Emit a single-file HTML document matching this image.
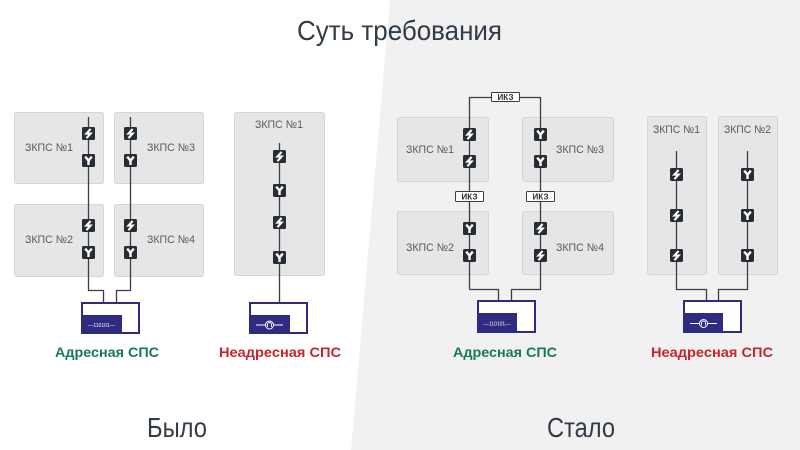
<!DOCTYPE html>
<html><head><meta charset="utf-8"><style>
html,body{margin:0;padding:0;background:#fff;}
svg{display:block;}
text{font-family:"Liberation Sans",sans-serif;}
</style></head><body>
<svg width="800" height="450" viewBox="0 0 800 450" xmlns="http://www.w3.org/2000/svg">
<defs>
<g id="bolt"><rect x="0" y="0" width="13" height="13" rx="1.5" fill="#272d34"/><path d="M8.6 2 L4.4 6.6 L8.6 6.6 L4.4 11.2" fill="none" stroke="#fff" stroke-width="2.1" stroke-linejoin="miter"/></g>
<g id="ysym"><rect x="0" y="0" width="13" height="13" rx="1.5" fill="#272d34"/><path d="M3.2 2.6 L6.5 6.6 L9.8 2.6 M6.5 6.6 L6.5 11" fill="none" stroke="#fff" stroke-width="2.4"/></g>
</defs>
<rect width="800" height="450" fill="#fff"/>
<polygon points="390,0 800,0 800,450 351,450" fill="#f1f1f1"/>

<!-- Title -->
<text x="297" y="40" font-size="28" fill="#323c46" textLength="205" lengthAdjust="spacingAndGlyphs">Суть требования</text>
<text x="147" y="437" font-size="28" fill="#323c46" textLength="60" lengthAdjust="spacingAndGlyphs">Было</text>
<text x="547" y="437" font-size="28" fill="#323c46" textLength="68" lengthAdjust="spacingAndGlyphs">Стало</text>

<g fill="#e6e6e6" stroke="#d6d6d6" stroke-width="1">
<!-- left: Было -->
<rect x="14.5" y="112.5" width="89" height="71" rx="2"/>
<rect x="114.5" y="112.5" width="89" height="71" rx="2"/>
<rect x="14.5" y="204.5" width="89" height="72" rx="2"/>
<rect x="114.5" y="204.5" width="89" height="72" rx="2"/>
<rect x="234.5" y="112.5" width="90" height="163" rx="2"/>
<!-- right: Стало -->
<rect x="397.5" y="117.5" width="91" height="64" rx="2"/>
<rect x="522.5" y="117.5" width="91" height="64" rx="2"/>
<rect x="397.5" y="211.5" width="91" height="63" rx="2"/>
<rect x="522.5" y="211.5" width="91" height="63" rx="2"/>
<rect x="647.5" y="116.5" width="59" height="158" rx="2"/>
<rect x="718.5" y="116.5" width="59" height="158" rx="2"/>
</g>

<g font-size="11" fill="#555a60">
<text x="25" y="151" textLength="48" lengthAdjust="spacingAndGlyphs">ЗКПС №1</text>
<text x="147" y="151" textLength="48" lengthAdjust="spacingAndGlyphs">ЗКПС №3</text>
<text x="25" y="243" textLength="48" lengthAdjust="spacingAndGlyphs">ЗКПС №2</text>
<text x="147" y="243" textLength="48" lengthAdjust="spacingAndGlyphs">ЗКПС №4</text>
<text x="255" y="128" textLength="48" lengthAdjust="spacingAndGlyphs">ЗКПС №1</text>
<text x="406" y="153" textLength="48" lengthAdjust="spacingAndGlyphs">ЗКПС №1</text>
<text x="556" y="153" textLength="48" lengthAdjust="spacingAndGlyphs">ЗКПС №3</text>
<text x="406" y="251" textLength="48" lengthAdjust="spacingAndGlyphs">ЗКПС №2</text>
<text x="556" y="251" textLength="48" lengthAdjust="spacingAndGlyphs">ЗКПС №4</text>
<text x="653" y="133" textLength="47" lengthAdjust="spacingAndGlyphs">ЗКПС №1</text>
<text x="724" y="133" textLength="47" lengthAdjust="spacingAndGlyphs">ЗКПС №2</text>
</g>

<!-- wires -->
<g fill="none" stroke="#3a3f46" stroke-width="1.3">
<path d="M88.5 117 V290.5 H103.5 V302"/>
<path d="M130.5 117 V290.5 H116.5 V302"/>
<path d="M279.5 143 V302"/>
<path d="M469.5 289.5 V97.5 H540.5 V289.5 H511.5 V300"/>
<path d="M469.5 289.5 H498.5 V300"/>
<path d="M676.5 151 V289.5 H706.5 V300"/>
<path d="M747.5 151 V289.5 H718.5 V300"/>
</g>

<!-- icons Было -->
<use href="#bolt" x="82" y="127"/><use href="#ysym" x="82" y="154"/>
<use href="#bolt" x="82" y="219"/><use href="#ysym" x="82" y="246"/>
<use href="#bolt" x="124" y="127"/><use href="#ysym" x="124" y="154"/>
<use href="#bolt" x="124" y="219"/><use href="#ysym" x="124" y="246"/>
<use href="#bolt" x="273" y="150"/><use href="#ysym" x="273" y="184"/>
<use href="#bolt" x="273" y="216"/><use href="#ysym" x="273" y="251"/>
<!-- icons Стало -->
<use href="#bolt" x="463" y="128"/><use href="#bolt" x="463" y="155"/>
<use href="#ysym" x="463" y="222"/><use href="#ysym" x="463" y="249"/>
<use href="#ysym" x="534" y="128"/><use href="#ysym" x="534" y="155"/>
<use href="#bolt" x="534" y="222"/><use href="#bolt" x="534" y="249"/>
<use href="#bolt" x="670" y="168"/><use href="#bolt" x="670" y="209"/><use href="#bolt" x="670" y="249"/>
<use href="#ysym" x="741" y="168"/><use href="#ysym" x="741" y="209"/><use href="#ysym" x="741" y="249"/>

<!-- ИКЗ labels -->
<g fill="#fff" stroke="#3a3f46" stroke-width="1">
<rect x="491.5" y="92.5" width="28" height="9" rx="1"/>
<rect x="455.5" y="191.5" width="28" height="10" rx="1"/>
<rect x="526.5" y="191.5" width="28" height="10" rx="1"/>
</g>
<g font-size="8" font-weight="bold" fill="#2a2f36" text-anchor="middle">
<text x="505.5" y="100">ИКЗ</text>
<text x="469.5" y="199.5">ИКЗ</text>
<text x="540.5" y="199.5">ИКЗ</text>
</g>

<!-- devices -->
<g>
<rect x="82" y="303" width="57" height="30" fill="#fff" stroke="#2e2b80" stroke-width="2"/>
<rect x="81" y="315" width="41" height="19" fill="#2e2b80"/>
<text x="101.5" y="327" font-size="5" fill="#fff" text-anchor="middle">‒‒110101‒‒</text>

<rect x="250" y="303" width="57" height="30" fill="#fff" stroke="#2e2b80" stroke-width="2"/>
<rect x="249" y="315" width="41" height="19" fill="#2e2b80"/>
<path d="M256 325 H283" stroke="#fff" stroke-width="1"/>
<circle cx="269.5" cy="325" r="4" fill="#2e2b80" stroke="#fff" stroke-width="1"/>
<path d="M267.5 327 V324.5 A2 2 0 0 1 271.5 324.5 V327" fill="none" stroke="#fff" stroke-width="0.9"/>

<rect x="478" y="301" width="57" height="31" fill="#fff" stroke="#2e2b80" stroke-width="2"/>
<rect x="477" y="313" width="40" height="20" fill="#2e2b80"/>
<text x="497" y="325.5" font-size="5" fill="#fff" text-anchor="middle">‒‒110101‒‒</text>

<rect x="684" y="301" width="57" height="31" fill="#fff" stroke="#2e2b80" stroke-width="2"/>
<rect x="683" y="313" width="40" height="20" fill="#2e2b80"/>
<path d="M690 323.5 H717" stroke="#fff" stroke-width="1"/>
<circle cx="703.5" cy="323.5" r="4" fill="#2e2b80" stroke="#fff" stroke-width="1"/>
<path d="M701.5 325.5 V323 A2 2 0 0 1 705.5 323 V325.5" fill="none" stroke="#fff" stroke-width="0.9"/>
</g>

<g font-size="14" font-weight="bold">
<text x="55" y="357" fill="#167a55" textLength="104" lengthAdjust="spacingAndGlyphs">Адресная СПС</text>
<text x="219" y="357" fill="#c8232f" textLength="122" lengthAdjust="spacingAndGlyphs">Неадресная СПС</text>
<text x="453" y="357" fill="#167a55" textLength="104" lengthAdjust="spacingAndGlyphs">Адресная СПС</text>
<text x="651" y="357" fill="#c8232f" textLength="122" lengthAdjust="spacingAndGlyphs">Неадресная СПС</text>
</g>
</svg>
</body></html>
